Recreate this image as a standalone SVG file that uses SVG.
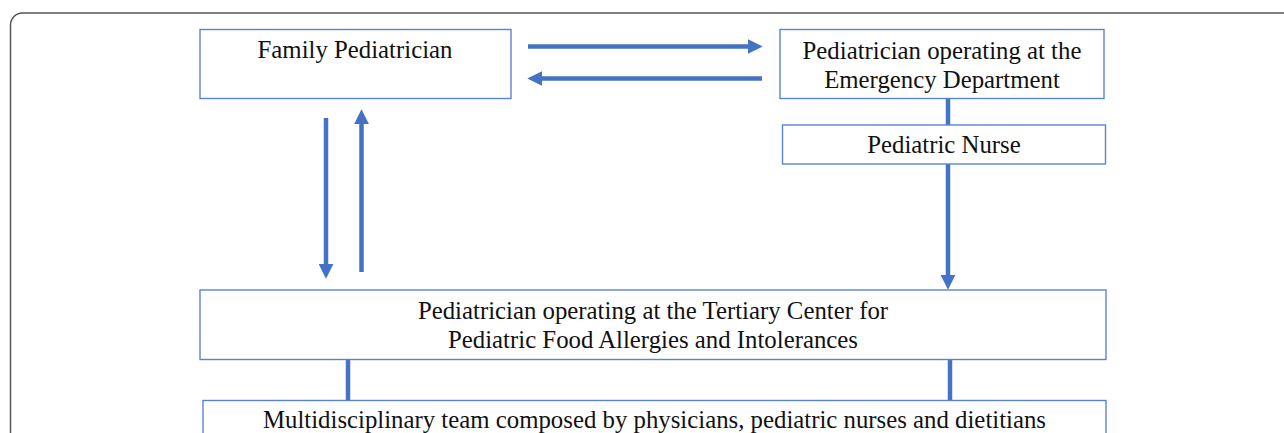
<svg xmlns="http://www.w3.org/2000/svg" width="1284" height="433" viewBox="0 0 1284 433">
<style>
.box{fill:#fff;stroke:#5a83d2;stroke-width:1.4}
.t{font-family:"Liberation Serif","Times New Roman",serif;font-size:24.8px;fill:#111;text-anchor:middle}
.c{stroke:#4472c4;stroke-width:4.5;fill:none}
</style>
<defs>
<marker id="ah" viewBox="0 0 14 14" refX="4" refY="7" markerWidth="15" markerHeight="15" markerUnits="userSpaceOnUse" orient="auto">
<path d="M0,0 L14,7 L0,14 z" fill="#4472c4"/>
</marker>
</defs>
<rect width="1284" height="433" fill="#fff"/>
<path d="M10.5,433 V25 A12,12 0 0 1 22.5,13 H1284" fill="none" stroke="#555" stroke-width="1.5"/>
<g id="connectors">
<line class="c" x1="528" y1="46.5" x2="752" y2="46.5" marker-end="url(#ah)"/>
<line class="c" x1="762" y1="78.5" x2="538" y2="78.5" marker-end="url(#ah)"/>
<line class="c" x1="326" y1="118" x2="326" y2="268" marker-end="url(#ah)"/>
<line class="c" x1="361.5" y1="272" x2="361.5" y2="120" marker-end="url(#ah)"/>
<line class="c" x1="948" y1="98" x2="948" y2="125"/>
<line class="c" x1="948" y1="164" x2="948" y2="279" marker-end="url(#ah)"/>
<line class="c" x1="348" y1="359" x2="348" y2="400.5"/>
<line class="c" x1="950" y1="359" x2="950" y2="400.5"/>
</g>
<g id="family">
<rect class="box" x="200" y="29.5" width="311" height="69"/>
<text class="t" x="355" y="58">Family Pediatrician</text>
</g>
<g id="ed">
<rect class="box" x="780" y="29.5" width="324" height="69"/>
<text class="t" x="942" y="59">Pediatrician operating at the</text>
<text class="t" x="942" y="88">Emergency Department</text>
</g>
<g id="nurse">
<rect class="box" x="782.5" y="125" width="323" height="39"/>
<text class="t" x="944" y="153">Pediatric Nurse</text>
</g>
<g id="tertiary">
<rect class="box" x="200" y="290" width="906" height="69.5"/>
<text class="t" x="653" y="319">Pediatrician operating at the Tertiary Center for</text>
<text class="t" x="653" y="348">Pediatric Food Allergies and Intolerances</text>
</g>
<g id="team">
<rect class="box" x="203" y="400.5" width="903" height="60"/>
<text class="t" x="654.5" y="428">Multidisciplinary team composed by physicians, pediatric nurses and dietitians</text>
</g>
</svg>
